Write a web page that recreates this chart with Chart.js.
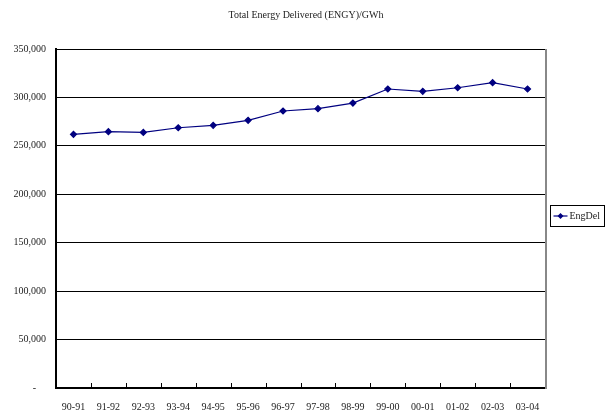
<!DOCTYPE html>
<html>
<head>
<meta charset="utf-8">
<script src="https://cdn.jsdelivr.net/npm/chart.js@4.4.1/dist/chart.umd.min.js"></script>
<style>
  html, body { margin: 0; padding: 0; background: #fff; }
  #wrap { width: 608px; height: 420px; }
</style>
</head>
<body>
<div id="wrap"><canvas id="c" width="608" height="420"></canvas></div>
<script>
const chartTitle = 'Total Energy Delivered (ENGY)/GWh';
const years = ['90-91','91-92','92-93','93-94','94-95','95-96','96-97','97-98','98-99','99-00','00-01','01-02','02-03','03-04'];
const engDel = [261900, 264600, 263900, 268700, 271200, 276400, 286000, 288400, 294200, 308700, 306300, 310000, 315200, 308700];
const yTicks = [0, 50000, 100000, 150000, 200000, 250000, 300000, 350000];

const serif = '"Liberation Serif", "DejaVu Serif", serif';
const navy = '#000080';

// accounting-style numbers: thousands separators, a dash for zero
function fmt(v) {
  if (v === 0) return '-    ';
  return v.toLocaleString('en-US');
}

// Title, inner tick marks, right frame edge and the boxed legend
const decor = {
  id: 'decor',
  afterDraw(chart) {
    const ctx = chart.ctx;
    const a = chart.chartArea;
    const xs = chart.scales.x;
    ctx.save();
    // title
    ctx.fillStyle = '#222';
    ctx.font = '10px ' + serif;
    ctx.textAlign = 'center';
    ctx.textBaseline = 'middle';
    ctx.fillText(chartTitle, 306, 15);

    // category boundary ticks pointing into the plot
    ctx.strokeStyle = '#000';
    ctx.lineWidth = 1;
    for (let i = 1; i < years.length; i++) {
      const x = Math.round((xs.getPixelForValue(i - 1) + xs.getPixelForValue(i)) / 2) + 0.5;
      ctx.beginPath();
      ctx.moveTo(x, a.bottom);
      ctx.lineTo(x, a.bottom - 5);
      ctx.stroke();
    }

    // right edge of the plot frame
    ctx.strokeStyle = '#888';
    ctx.lineWidth = 2;
    ctx.beginPath();
    ctx.moveTo(a.right + 1, a.top);
    ctx.lineTo(a.right + 1, a.bottom + 1);
    ctx.stroke();

    // legend
    const ds = chart.data.datasets[0];
    const lx = 550.5, ly = 205.5, lw = 54, lh = 21;
    ctx.strokeStyle = '#000';
    ctx.lineWidth = 1;
    ctx.strokeRect(lx, ly, lw, lh);
    const cy = ly + lh / 2;
    ctx.strokeStyle = ds.borderColor;
    ctx.lineWidth = 1.2;
    ctx.beginPath();
    ctx.moveTo(lx + 3, cy);
    ctx.lineTo(lx + 17, cy);
    ctx.stroke();
    ctx.fillStyle = ds.borderColor;
    ctx.beginPath();
    ctx.moveTo(lx + 10, cy - 3);
    ctx.lineTo(lx + 13, cy);
    ctx.lineTo(lx + 10, cy + 3);
    ctx.lineTo(lx + 7, cy);
    ctx.closePath();
    ctx.fill();
    ctx.fillStyle = '#222';
    ctx.font = '10px ' + serif;
    ctx.textAlign = 'left';
    ctx.textBaseline = 'middle';
    ctx.fillText(ds.label, lx + 19, cy + 0.5);
    ctx.restore();
  }
};

new Chart(document.getElementById('c'), {
  type: 'line',
  data: {
    labels: years,
    datasets: [{
      label: 'EngDel',
      data: engDel,
      borderColor: navy,
      backgroundColor: navy,
      borderWidth: 1.2,
      pointStyle: 'rectRot',
      pointRadius: 3,
      pointHoverRadius: 3,
      tension: 0
    }]
  },
  options: {
    responsive: false,
    animation: false,
    devicePixelRatio: 1,
    layout: { padding: { top: 49, right: 63, left: 0, bottom: 0 } },
    plugins: {
      legend: { display: false },
      title: { display: false },
      tooltip: { enabled: false }
    },
    scales: {
      x: {
        offset: true,
        grid: { display: false },
        border: { display: true, color: '#000', width: 2 },
        ticks: {
          color: '#222',
          font: { family: serif, size: 10 },
          padding: 5,
          maxRotation: 0,
          autoSkip: false
        },
        afterFit(s) { s.height = 32; }
      },
      y: {
        min: 0,
        max: 350000,
        afterBuildTicks(s) { s.ticks = yTicks.map(v => ({ value: v })); },
        grid: { color: '#000', lineWidth: 1, drawTicks: false },
        border: { display: true, color: '#000', width: 2 },
        ticks: {
          color: '#222',
          font: { family: serif, size: 10 },
          padding: 10,
          callback: v => fmt(v)
        },
        afterFit(s) { s.width = 56; }
      }
    }
  },
  plugins: [decor]
});
</script>
</body>
</html>
